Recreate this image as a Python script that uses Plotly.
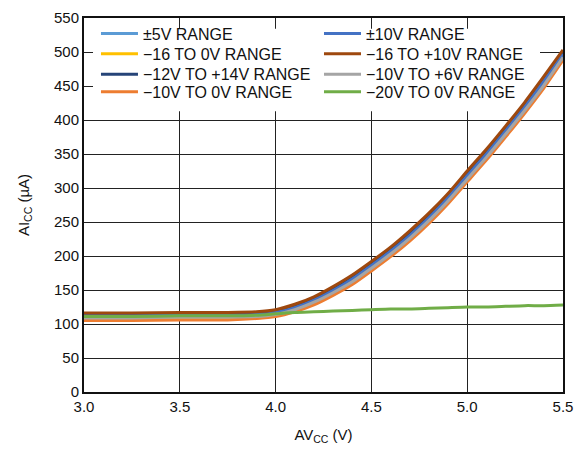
import plotly.graph_objects as go

x_v = [3.0, 3.25, 3.5, 3.75, 3.9, 4.0, 4.1, 4.2, 4.3, 4.4, 4.5, 4.6, 4.7, 4.8, 4.9, 5.0, 5.1, 5.2, 5.3, 5.4, 5.5]

pm5 = [111, 111, 112, 112, 113, 116, 123, 134, 148, 165, 185, 206, 229, 255, 285, 317, 349, 383, 418, 455, 495]
pm10 = [112, 112, 113, 113, 114, 117, 124, 135, 149, 166, 186, 207, 230, 256, 286, 318, 350, 384, 419, 457, 497]
m16_0 = [107, 107, 108, 108, 109, 112, 119, 130, 144, 160, 180, 201, 224, 250, 279, 311, 343, 377, 412, 449, 490]
m16_p10 = [116, 116, 117, 117, 118, 121, 129, 140, 155, 172, 192, 213, 237, 263, 292, 325, 357, 391, 426, 464, 503]
m12_p14 = [113, 113, 114, 114, 115, 118, 126, 137, 151, 168, 188, 209, 232, 258, 288, 320, 352, 386, 421, 459, 499]
m10_p6 = [109, 109, 110, 110, 111, 114, 121, 132, 146, 162, 182, 203, 226, 252, 281, 313, 345, 379, 414, 451, 492]
m10_0 = [105, 105, 106, 106, 108, 111, 118, 128, 142, 158, 178, 199, 222, 248, 277, 309, 341, 375, 410, 447, 488]
m20_0 = [111, 111, 112, 112, 113, 115, 117, 118, 119, 120, 121, 122, 122, 123, 124, 125, 125, 126, 127, 127, 128]

names = ["±5V RANGE", "−16 TO 0V RANGE", "−12V TO +14V RANGE", "−10V TO 0V RANGE",
         "±10V RANGE", "−16 TO +10V RANGE", "−10V TO +6V RANGE", "−20V TO 0V RANGE"]
series = [pm5, m16_0, m12_p14, m10_0, pm10, m16_p10, m10_p6, m20_0]
colors = ["#5B9BD5", "#FFC000", "#264478", "#ED7D31", "#4472C4", "#9E480E", "#A5A5A5", "#70AD47"]

# legend slots: (column x in paper, row top y in paper)
col_x = [0.0250, 0.4906]
row_y = [1.0039, 0.9493, 0.8948, 0.8480]

font = "Liberation Sans, Arial, sans-serif"
fig = go.Figure()
legends = {}
for i, (n, s, c) in enumerate(zip(names, series, colors)):
    lid = "legend" if i == 0 else f"legend{i + 1}"
    fig.add_trace(go.Scatter(x=x_v, y=s, name=n, mode="lines", legend=lid,
                             line=dict(color=c, width=3, shape="spline", smoothing=0.6)))
    legends[lid] = dict(x=col_x[i // 4], y=row_y[i % 4], xanchor="left", yanchor="top",
                        orientation="v", bgcolor="rgba(0,0,0,0)", borderwidth=0,
                        itemwidth=37,
                        font=dict(size=16, family=font, color="#111111"))

fig.update_layout(
    width=588, height=450,
    margin=dict(l=84, r=25, t=9, b=56),
    paper_bgcolor="white", plot_bgcolor="white",
    font=dict(family=font, size=15, color="#111111"),
    showlegend=True,
    **legends,
    shapes=[dict(type="rect", xref="x", yref="y",
                 x0=3.047, x1=5.38, y0=412.8, y1=534.3,
                 fillcolor="white", line=dict(width=0), layer="between")],
    xaxis=dict(range=[3.0, 5.5], dtick=0.5, tick0=3.0, tickformat=".1f",
               showgrid=True, gridcolor="#222222", gridwidth=1,
               showline=True, linecolor="#111111", linewidth=2, mirror=True,
               ticks="", zeroline=False,
               title=dict(text="AV<sub>CC</sub> (V)", standoff=15, font=dict(size=15)),
               tickfont=dict(size=15)),
    yaxis=dict(range=[0, 550], dtick=50, tick0=0,
               showgrid=True, gridcolor="#222222", gridwidth=1,
               showline=True, linecolor="#111111", linewidth=2, mirror=True,
               ticks="", zeroline=False,
               title=dict(text="AI<sub>CC</sub> (µA)", standoff=21, font=dict(size=15)),
               tickfont=dict(size=15)),
)
fig.write_html("out.html")
